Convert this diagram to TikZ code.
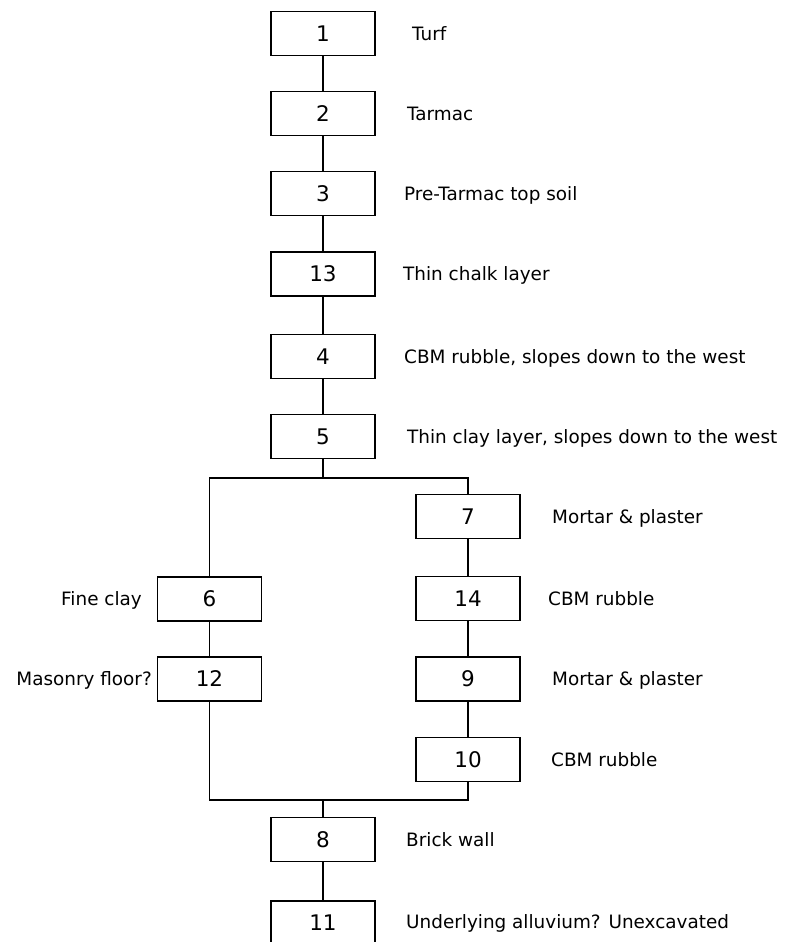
\documentclass[tikz,border=0pt]{standalone}
\usepackage{fontspec}
\setmainfont{DejaVu Sans}
\begin{document}
\begin{tikzpicture}[x=1pt,y=1pt,
  box/.style={draw=black, line width=1.4pt, minimum width=104pt, minimum height=44pt, inner sep=0pt, font=\fontsize{21.5}{24}\selectfont},
  lbl/.style={anchor=west, inner sep=0pt, text height=13.4pt, text depth=0pt, font=\fontsize{18.4}{22}\selectfont},
  lbll/.style={lbl, anchor=east},
  con/.style={line width=1.4pt, draw=black}]
\useasboundingbox (0,0) rectangle (785,-942);
\clip (0,0) rectangle (785,-942);
% main column
\node[box] (b1) at (323,-33.5) {1};
\node[box] (b2) at (323,-113.5) {2};
\node[box] (b3) at (323,-193.5) {3};
\node[box] (b13) at (323,-274) {13};
\node[box] (b4) at (323,-356.5) {4};
\node[box] (b5) at (323,-436.5) {5};
% right branch
\node[box] (b7) at (468,-516.5) {7};
\node[box] (b14) at (468,-598.5) {14};
\node[box] (b9) at (468,-679) {9};
\node[box] (b10) at (468,-759.5) {10};
% left branch
\node[box] (b6) at (209.5,-599) {6};
\node[box] (b12) at (209.5,-679) {12};
% bottom
\node[box] (b8) at (323,-839.5) {8};
\node[box] (b11) at (323,-923) {11};
% labels
\node[lbl] (l1) at (412,-33.5) {Turf};
\node[lbl] (l2) at (407,-113.5) {Tarmac};
\node[lbl] (l3) at (404,-193.5) {Pre-Tarmac top soil};
\node[lbl] (l13) at (403,-274) {Thin chalk layer};
\node[lbl] (l4) at (404,-356.5) {CBM rubble, slopes down to the west};
\node[lbl] (l5) at (407,-436.5) {Thin clay layer, slopes down to the west};
\node[lbl] (l7) at (552,-516.5) {Mortar \& plaster};
\node[lbl] (l14) at (548,-598.5) {CBM rubble};
\node[lbl] (l9) at (552,-679) {Mortar \& plaster};
\node[lbl] (l10) at (551,-759.5) {CBM rubble};
\node[lbll] (l6) at (142,-599) {Fine clay};
\node[lbll] (l12) at (152,-679) {Masonry floor?};
\node[lbl] (l8) at (406,-839.5) {Brick wall};
\node[lbl] (l11) at (406,-922) {Underlying alluvium? Unexcavated};
% connectors
\coordinate (sp) at (323,-478);
\coordinate (jn) at (323,-800);
\draw[con] (b1) -- (b2);
\draw[con] (b2) -- (b3);
\draw[con] (b3) -- (b13);
\draw[con] (b13) -- (b4);
\draw[con] (b4) -- (b5);
\draw[con] (b5) -- (sp);
\draw[con] (b6.north) |- (sp) -| (b7.north);
\draw[con] (b7) -- (b14);
\draw[con] (b14) -- (b9);
\draw[con] (b9) -- (b10);
\draw[con] (b6) -- (b12);
\draw[con] (b12.south) |- (jn) -| (b10.south);
\draw[con] (jn) -- (b8);
\draw[con] (b8) -- (b11);
\end{tikzpicture}
\end{document}
